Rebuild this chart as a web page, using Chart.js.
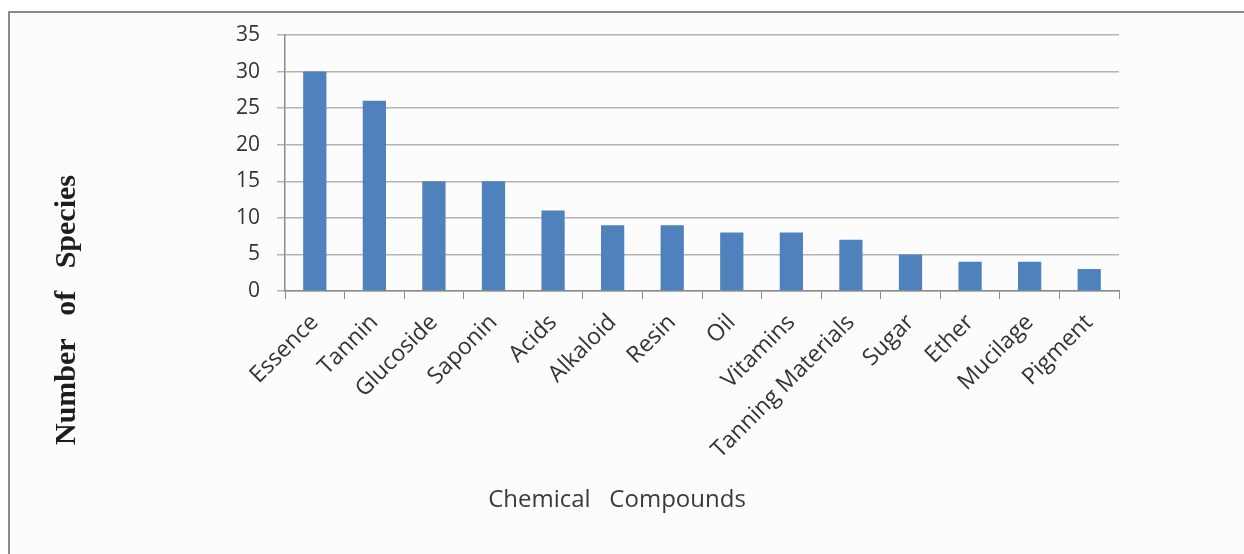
<!DOCTYPE html>
<html>
<head>
<meta charset="utf-8">
<script src="https://cdn.jsdelivr.net/npm/chart.js@4"></script>
<style>
  body { margin: 0; background: #ffffff; }
  #wrap { position: relative; width: 1244px; height: 554px; }
  #frame {
    position: absolute; left: 8px; top: 11px; right: 0; bottom: 0;
    border-left: 2px solid #8a8a8a; border-top: 2px solid #8a8a8a;
    background: #fcfcfc;
  }
  canvas { position: absolute; left: 0; top: 0; }
</style>
</head>
<body>
<div id="wrap">
  <div id="frame"></div>
  <canvas id="chart" width="1244" height="554"></canvas>
</div>
<script>
// Data
const compounds = ['Essence', 'Tannin', 'Glucoside', 'Saponin', 'Acids', 'Alkaloid', 'Resin',
  'Oil', 'Vitamins', 'Tanning Materials', 'Sugar', 'Ether', 'Mucilage', 'Pigment'];
const speciesCount = [30, 26, 15, 15, 11, 9, 9, 8, 8, 7, 5, 4, 4, 3];
const yTitle = 'Number   of   Species';
const xTitle = 'Chemical   Compounds';

// Axis titles sit off-centre in the original, so draw them by hand
const titlePlugin = {
  id: 'titles',
  afterDraw(chart) {
    const ctx = chart.ctx;
    ctx.save();
    ctx.fillStyle = '#1e1e1e';
    ctx.font = 'bold 30px "Liberation Serif"';
    ctx.textAlign = 'center';
    ctx.textBaseline = 'middle';
    ctx.translate(67, 310);
    ctx.rotate(-Math.PI / 2);
    ctx.fillText(yTitle, 0, 0);
    ctx.restore();

    ctx.save();
    ctx.fillStyle = '#3a3a3a';
    ctx.font = '24px "Open Sans"';
    ctx.textAlign = 'center';
    ctx.textBaseline = 'middle';
    ctx.fillText(xTitle, 617, 500);
    ctx.restore();
  }
};

new Chart(document.getElementById('chart'), {
  type: 'bar',
  data: {
    labels: compounds,
    datasets: [{
      data: speciesCount,
      backgroundColor: '#4f81bd',
      borderWidth: 0,
      categoryPercentage: 1,
      barPercentage: 0.39
    }]
  },
  options: {
    responsive: false,
    animation: false,
    layout: { padding: { left: 0, top: 35, right: 125, bottom: 0 } },
    plugins: {
      legend: { display: false },
      tooltip: { enabled: false }
    },
    scales: {
      x: {
        afterFit: s => { s.height = 554 - 291; },
        grid: {
          display: true,
          drawOnChartArea: false,
          drawTicks: true,
          tickLength: 8,
          color: '#8a8a8a',
          offset: true
        },
        border: { color: '#8a8a8a', width: 1.5 },
        ticks: {
          minRotation: 45,
          maxRotation: 45,
          autoSkip: false,
          padding: 10,
          color: '#333333',
          font: { family: '"Open Sans"', size: 23 }
        }
      },
      y: {
        min: 0,
        max: 35,
        afterFit: s => { s.width = 285; },
        grid: {
          color: '#b4b4b4',
          lineWidth: 1.5,
          tickLength: 8
        },
        border: { color: '#8a8a8a', width: 1.5 },
        ticks: {
          stepSize: 5,
          padding: 17,
          color: '#333333',
          font: { family: '"Open Sans"', size: 21 }
        }
      }
    }
  },
  plugins: [titlePlugin]
});
</script>
</body>
</html>
